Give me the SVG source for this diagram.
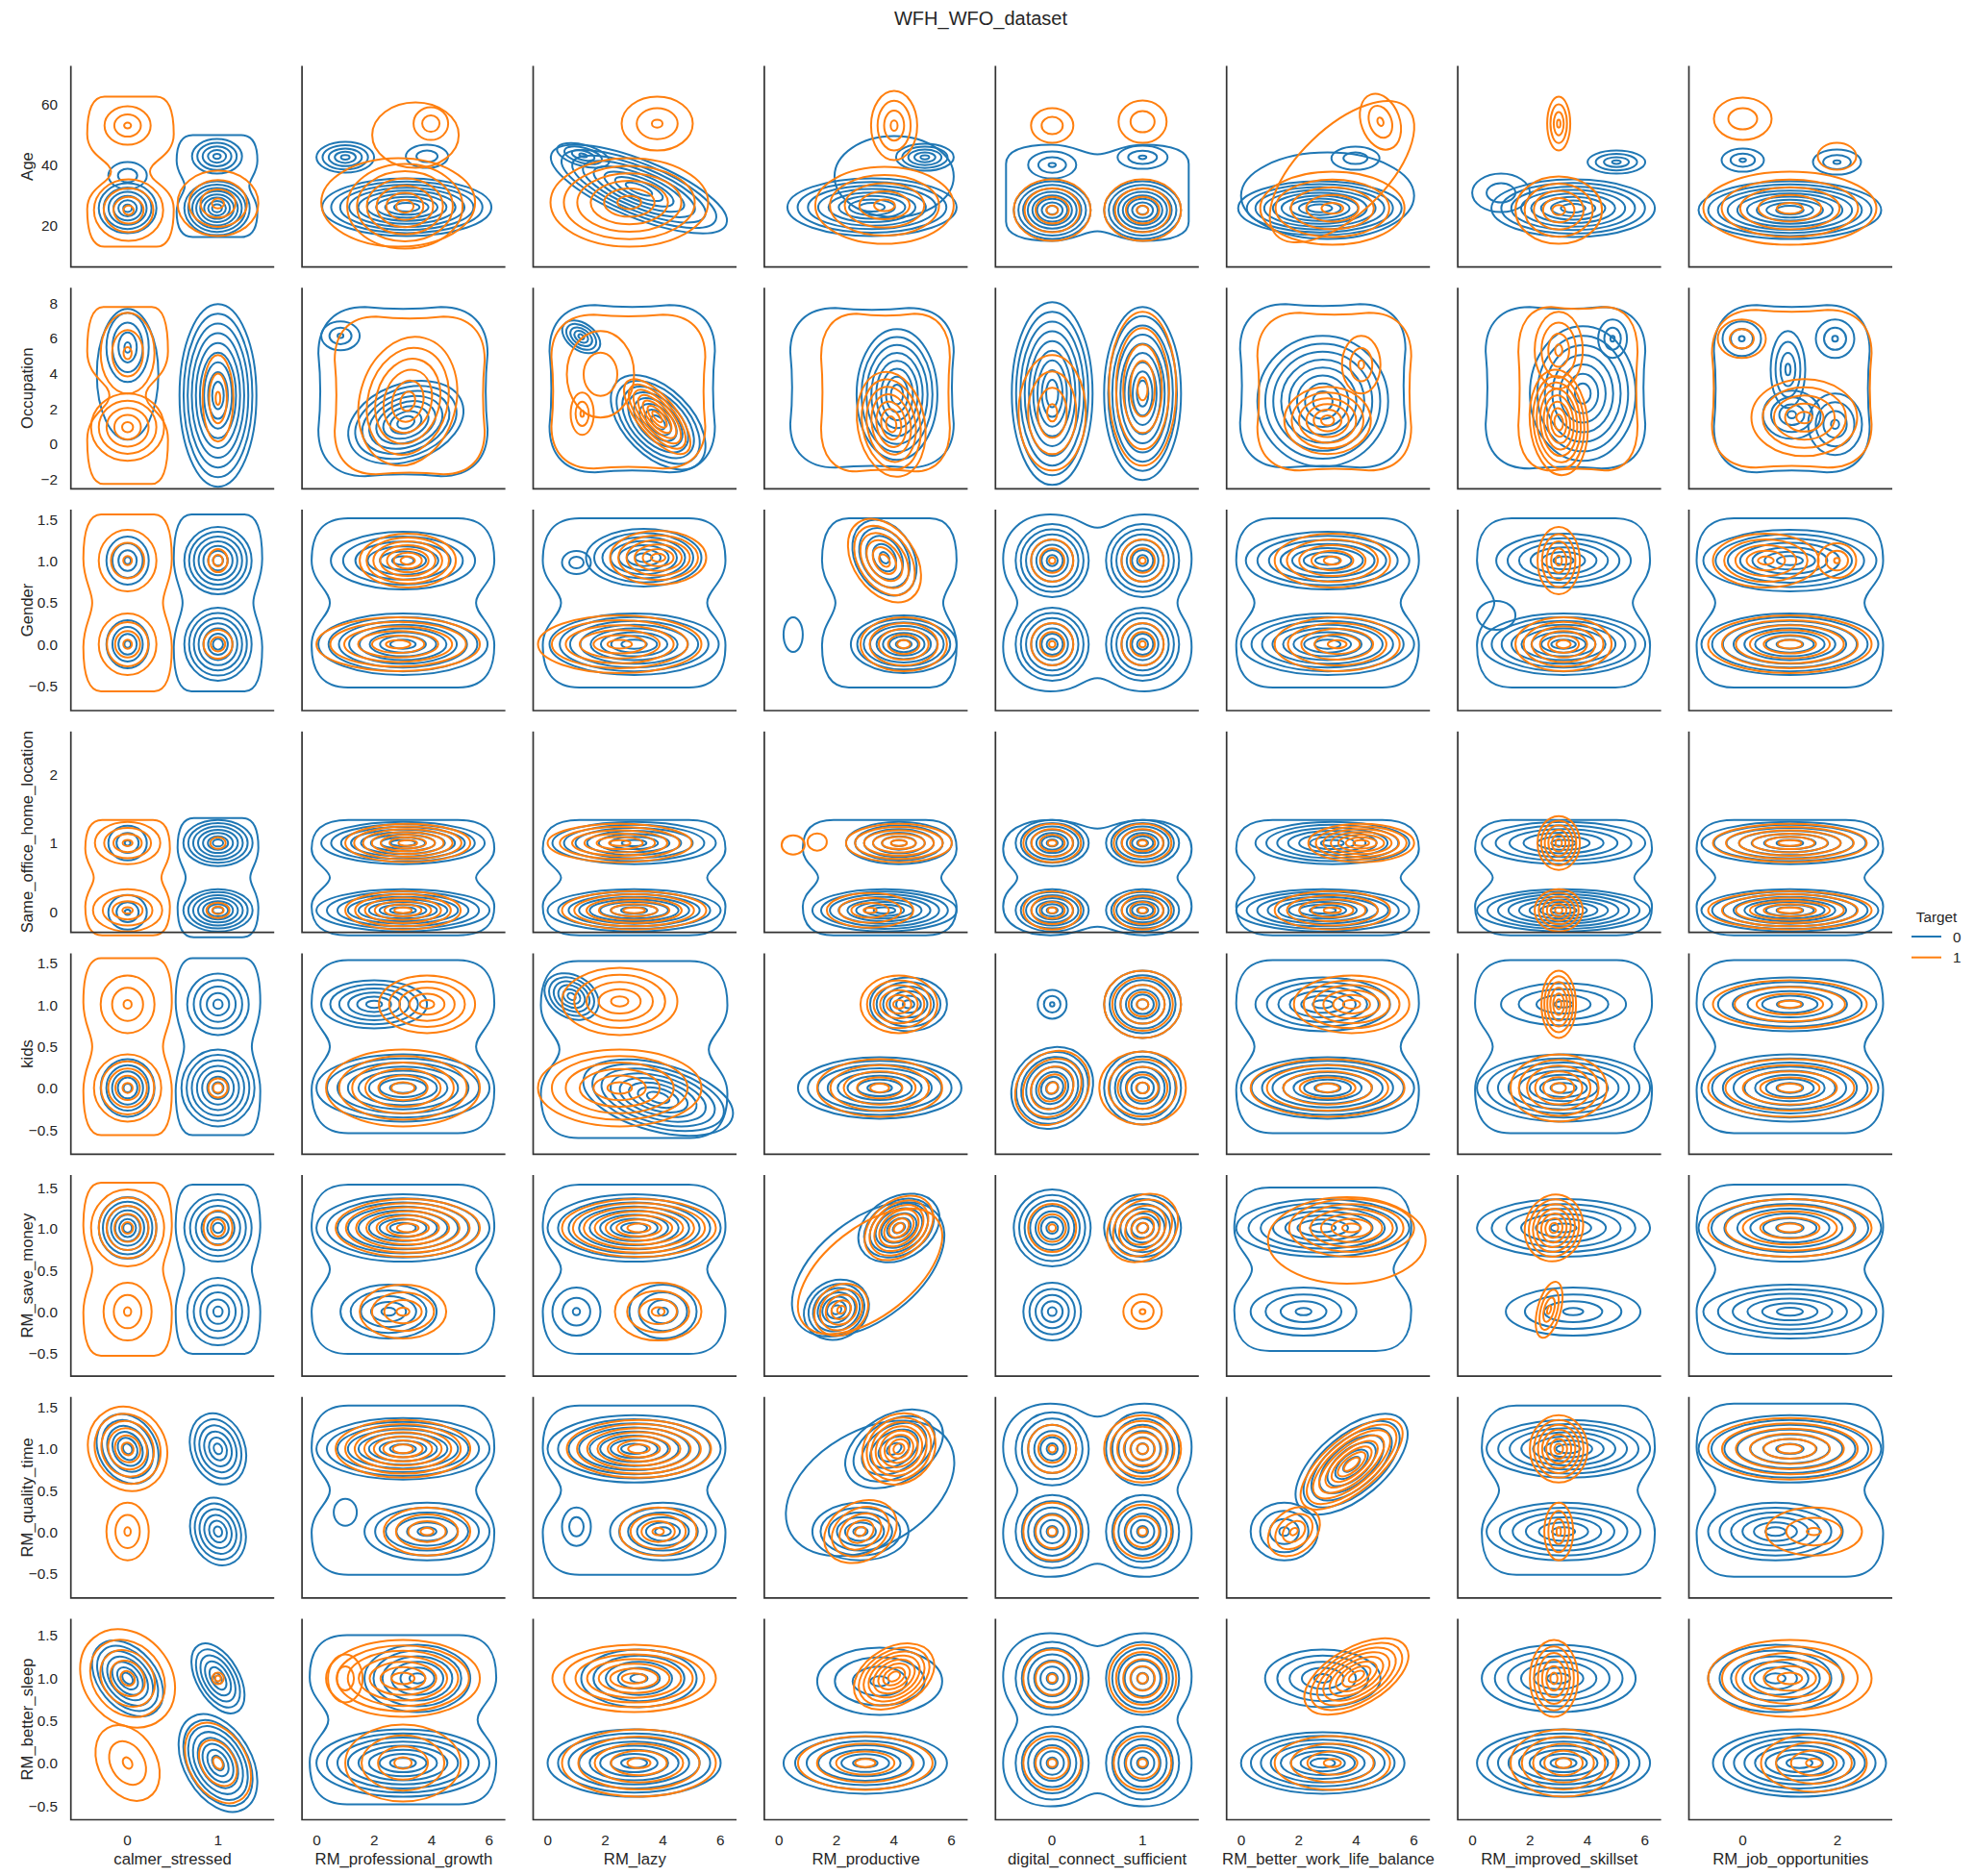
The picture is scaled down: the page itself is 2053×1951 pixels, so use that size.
<svg xmlns="http://www.w3.org/2000/svg" xmlns:xlink="http://www.w3.org/1999/xlink" width="2053" height="1951" viewBox="0 0 2053 1951">
<style>
circle,.e{fill:none;stroke-width:2;vector-effect:non-scaling-stroke}
.b{stroke:#1f77b4}
.o{stroke:#ff7f0e}
.sp{fill:none;stroke:#333;stroke-width:1.7}
text{font-family:"Liberation Sans",Arial,sans-serif;fill:#262626}
.yt{font-size:15.3px;text-anchor:end}
.xt{font-size:15.3px;text-anchor:middle}
.lb{font-size:16.7px;text-anchor:middle}
</style>
<defs>
<g id="k1"><circle r="1"/></g>
<g id="k2"><circle r="1"/><circle r=".5"/></g>
<g id="k3"><circle r="1"/><circle r=".575"/><circle r=".15"/></g>
<g id="k4"><circle r="1"/><circle r=".717"/><circle r=".433"/><circle r=".15"/></g>
<g id="k5"><circle r="1"/><circle r=".788"/><circle r=".575"/><circle r=".363"/><circle r=".15"/></g>
<g id="k6"><circle r="1"/><circle r=".83"/><circle r=".66"/><circle r=".49"/><circle r=".32"/><circle r=".15"/></g>
<g id="k7"><circle r="1"/><circle r=".858"/><circle r=".717"/><circle r=".575"/><circle r=".433"/><circle r=".292"/><circle r=".15"/></g>
<g id="k8"><circle r="1"/><circle r=".879"/><circle r=".757"/><circle r=".636"/><circle r=".514"/><circle r=".393"/><circle r=".271"/><circle r=".15"/></g>
<g id="k9"><circle r="1"/><circle r=".894"/><circle r=".788"/><circle r=".681"/><circle r=".575"/><circle r=".469"/><circle r=".363"/><circle r=".256"/><circle r=".15"/></g>
<path id="pw" class="e" d="M-.6-1L.6-1C.9-1 1-.8 1-.5C1-.25 .8-.15 .8 0C.8 .15 1 .25 1 .5C1 .8 .9 1 .6 1L-.6 1C-.9 1-1 .8-1 .5C-1 .25-.8 .15-.8 0C-.8-.15-1-.25-1-.5C-1-.8-.9-1-.6-1Z"/>
<path id="pd" class="e" d="M-.6-1L.6-1C.9-1 1-.8 1-.5C1-.2 .45-.15 .45 0C.45 .15 1 .2 1 .5C1 .8 .9 1 .6 1L-.6 1C-.9 1-1 .8-1 .5C-1 .2-.45 .15-.45 0C-.45-.15-1-.2-1-.5C-1-.8-.9-1-.6-1Z"/>
<path id="p4" class="e" d="M-.5-1C-.2-1-.15-.85 0-.85C.15-.85 .2-1 .5-1C.8-1 1-.8 1-.5C1-.2 .85-.15 .85 0C.85 .15 1 .2 1 .5C1 .8 .8 1 .5 1C.2 1 .15 .85 0 .85C-.15 .85-.2 1-.5 1C-.8 1-1 .8-1 .5C-1 .2-.85 .15-.85 0C-.85-.15-1-.2-1-.5C-1-.8-.8-1-.5-1Z"/>
<path id="rr" class="e" d="M-.45-1C-.15-.97 .15-.97 .45-1C.8-1 1-.8 1-.45C.97-.15 .97 .15 1 .45C1 .8 .8 1 .45 1C.15 .97-.15 .97-.45 1C-.8 1-1 .8-1 .45C-.97 .15-.97-.15-1-.45C-1-.8-.8-1-.45-1Z"/>
</defs>
<rect width="2053" height="1951" fill="#fff"/>
<text x="1020" y="26" style="font-size:20px" text-anchor="middle">WFH_WFO_dataset</text>

<!-- Row 1: Age -->
<g id="p11" transform="translate(73.7 68.6)">
<use href="#k6" class="b" transform="translate(59 148) scale(30 26)"/>
<use href="#k2" class="b" transform="translate(59 114) scale(20 14)"/>
<use href="#pw" class="b" transform="translate(152 125) scale(42 53)"/>
<use href="#k8" class="b" transform="translate(152 148) scale(34 28)"/>
<use href="#k5" class="b" transform="translate(152 94) scale(26 18)"/>
<use href="#pd" class="o" transform="translate(62 110) scale(45 78)"/>
<use href="#k3" class="o" transform="translate(59 62) scale(24 20)"/>
<use href="#k4" class="o" transform="translate(60 150) scale(36 32)"/>
<use href="#k4" class="o" transform="translate(153 143) scale(42 34)"/>
<path class="sp" d="M0 0V209H211.5"/>
</g>
<g id="p12" transform="translate(314.1 68.6)">
<use href="#k9" class="b" transform="translate(109 147) scale(88 30)"/>
<use href="#k5" class="b" transform="translate(45 95) scale(30 16)"/>
<use href="#k2" class="b" transform="translate(130 94) scale(22 12)"/>
<use href="#k6" class="o" transform="translate(107 146) scale(60 44)"/>
<use href="#k2" class="o" transform="translate(134 60) scale(18 17)"/>
<use href="#k1" class="o" transform="translate(100 142) scale(80 46)"/>
<use href="#k1" class="o" transform="translate(118 72) scale(45 34)"/>
<path class="sp" d="M0 0V209H211.5"/>
</g>
<g id="p13" transform="translate(554.5 68.6)">
<use href="#k8" class="b" transform="translate(110 128) rotate(22) scale(98 30)"/>
<use href="#k4" class="b" transform="translate(52 93) rotate(15) scale(28 11)"/>
<use href="#k3" class="o" transform="translate(129 60) scale(37 28)"/>
<use href="#k6" class="o" transform="translate(100 142) scale(82 46)"/>
<path class="sp" d="M0 0V209H211.5"/>
</g>
<g id="p14" transform="translate(794.9 68.6)">
<use href="#k8" class="b" transform="translate(112 147) scale(88 30)"/>
<use href="#k5" class="b" transform="translate(167 95) scale(30 14)"/>
<use href="#k1" class="b" transform="translate(135 115) scale(62 42)"/>
<use href="#k4" class="o" transform="translate(135 62) scale(24 36)"/>
<use href="#k5" class="o" transform="translate(125 145) scale(72 40)"/>
<path class="sp" d="M0 0V209H211.5"/>
</g>
<g id="p15" transform="translate(1035.3 68.6)">
<use href="#k8" class="b" transform="translate(59 150) scale(40 30)"/>
<use href="#k3" class="b" transform="translate(59 103) scale(25 14)"/>
<use href="#k8" class="b" transform="translate(153 150) scale(40 30)"/>
<use href="#k3" class="b" transform="translate(153 95) scale(26 12)"/>
<use href="#pw" class="b" transform="translate(106 132) rotate(90) scale(50 95)"/>
<use href="#k2" class="o" transform="translate(59 62) scale(22 18)"/>
<use href="#k4" class="o" transform="translate(59 150) scale(40 32)"/>
<use href="#k2" class="o" transform="translate(153 58) scale(25 22)"/>
<use href="#k4" class="o" transform="translate(153 150) scale(40 32)"/>
<path class="sp" d="M0 0V209H211.5"/>
</g>
<g id="p16" transform="translate(1275.7 68.6)">
<use href="#k9" class="b" transform="translate(97 148) scale(85 28)"/>
<use href="#k2" class="b" transform="translate(134 96) scale(25 12)"/>
<use href="#k1" class="b" transform="translate(105 135) scale(90 45)"/>
<use href="#k5" class="o" transform="translate(110 148) scale(75 38)"/>
<use href="#k3" class="o" transform="translate(160 58) rotate(-20) scale(20 30)"/>
<use href="#k1" class="o" transform="translate(120 110) rotate(-44) scale(95 45)"/>
<path class="sp" d="M0 0V209H211.5"/>
</g>
<g id="p17" transform="translate(1516.1 68.6)">
<use href="#k8" class="b" transform="translate(120 148) scale(85 30)"/>
<use href="#k4" class="b" transform="translate(165 100) scale(30 12)"/>
<use href="#k2" class="b" transform="translate(45 132) scale(30 20)"/>
<use href="#k4" class="o" transform="translate(105 60) scale(12 28)"/>
<use href="#k5" class="o" transform="translate(105 150) scale(45 35)"/>
<path class="sp" d="M0 0V209H211.5"/>
</g>
<g id="p18" transform="translate(1756.5 68.6)">
<use href="#k9" class="b" transform="translate(105 150) scale(95 30)"/>
<use href="#k3" class="b" transform="translate(56 98) scale(22 12)"/>
<use href="#k3" class="b" transform="translate(154 100) scale(25 13)"/>
<use href="#k2" class="o" transform="translate(56 55) scale(30 22)"/>
<use href="#k5" class="o" transform="translate(105 148) scale(90 38)"/>
<use href="#k1" class="o" transform="translate(154 94) scale(20 14)"/>
<path class="sp" d="M0 0V209H211.5"/>
</g>

<!-- Row 2: Occupation -->
<g id="p21" transform="translate(73.7 299.3)">
<use href="#k4" class="b" transform="translate(59 62) scale(22 36)"/>
<use href="#k1" class="b" transform="translate(59 90) scale(32 68)"/>
<use href="#k9" class="b" transform="translate(153 112) scale(40 95)"/>
<use href="#pd" class="o" transform="translate(59 112) scale(42 92)"/>
<use href="#k3" class="o" transform="translate(59 68) scale(28 42)"/>
<use href="#k5" class="o" transform="translate(59 145) scale(38 35)"/>
<use href="#k3" class="o" transform="translate(153 115) scale(16 45)"/>
<path class="sp" d="M0 0V209H211.5"/>
</g>
<g id="p22" transform="translate(314.1 299.3)">
<use href="#rr" class="b" transform="translate(105 108) scale(88 88)"/>
<use href="#k3" class="b" transform="translate(40 50) scale(20 15)"/>
<use href="#k8" class="b" transform="translate(108 140) rotate(-20) scale(62 40)"/>
<use href="#k6" class="o" transform="translate(110 118) rotate(15) scale(50 68)"/>
<use href="#rr" class="o" transform="translate(112 112) scale(78 82)"/>
<path class="sp" d="M0 0V209H211.5"/>
</g>
<g id="p23" transform="translate(554.5 299.3)">
<use href="#rr" class="b" transform="translate(103 105) scale(86 87)"/>
<use href="#k5" class="b" transform="translate(50 51) rotate(35) scale(22 14)"/>
<use href="#k8" class="b" transform="translate(130 140) rotate(45) scale(60 35)"/>
<use href="#rr" class="o" transform="translate(99 108) scale(80 80)"/>
<use href="#k7" class="o" transform="translate(129 134) rotate(50) scale(48 20)"/>
<use href="#k3" class="o" transform="translate(51 131) scale(12 22)"/>
<use href="#k2" class="o" transform="translate(70 90) scale(35 45)"/>
<path class="sp" d="M0 0V209H211.5"/>
</g>
<g id="p24" transform="translate(794.9 299.3)">
<use href="#rr" class="b" transform="translate(112 104) scale(85 83)"/>
<use href="#k8" class="b" transform="translate(138 111) scale(42 68)"/>
<use href="#rr" class="o" transform="translate(126 109) scale(67 82)"/>
<use href="#k7" class="o" transform="translate(132 142) rotate(-10) scale(35 55)"/>
<path class="sp" d="M0 0V209H211.5"/>
</g>
<g id="p25" transform="translate(1035.3 299.3)">
<use href="#k9" class="b" transform="translate(59 110) scale(42 95)"/>
<use href="#k9" class="b" transform="translate(153 110) scale(40 90)"/>
<use href="#k4" class="o" transform="translate(59 130) scale(35 60)"/>
<use href="#k5" class="o" transform="translate(153 105) scale(35 80)"/>
<path class="sp" d="M0 0V209H211.5"/>
</g>
<g id="p26" transform="translate(1275.7 299.3)">
<use href="#rr" class="b" transform="translate(100 102) scale(86 85)"/>
<use href="#k8" class="b" transform="translate(100 118) scale(68 68)"/>
<use href="#k6" class="o" transform="translate(105 138) scale(45 35)"/>
<use href="#k3" class="o" transform="translate(140 80) scale(20 30)"/>
<use href="#rr" class="o" transform="translate(112 108) scale(80 82)"/>
<path class="sp" d="M0 0V209H211.5"/>
</g>
<g id="p27" transform="translate(1516.1 299.3)">
<use href="#rr" class="b" transform="translate(112 104) scale(83 84)"/>
<use href="#k7" class="b" transform="translate(130 110) scale(55 70)"/>
<use href="#k3" class="b" transform="translate(161 53) scale(15 20)"/>
<use href="#k8" class="o" transform="translate(105 140) rotate(-5) scale(30 55)"/>
<use href="#k4" class="o" transform="translate(105 65) scale(25 40)"/>
<use href="#rr" class="o" transform="translate(125 105) scale(62 85)"/>
<path class="sp" d="M0 0V209H211.5"/>
</g>
<g id="p28" transform="translate(1756.5 299.3)">
<use href="#rr" class="b" transform="translate(107 105) scale(81 87)"/>
<use href="#k3" class="b" transform="translate(55 53) scale(20 18)"/>
<use href="#k3" class="b" transform="translate(152 53) scale(20 20)"/>
<use href="#k4" class="b" transform="translate(103 85) scale(18 40)"/>
<use href="#k4" class="b" transform="translate(152 142) scale(28 32)"/>
<use href="#k4" class="b" transform="translate(107 132) scale(30 25)"/>
<use href="#rr" class="o" transform="translate(107 105) scale(83 82)"/>
<use href="#k5" class="o" transform="translate(120 135) scale(55 40)"/>
<use href="#k2" class="o" transform="translate(55 53) scale(25 20)"/>
<path class="sp" d="M0 0V209H211.5"/>
</g>

<!-- Row 3: Gender -->
<g id="p31" transform="translate(73.7 530)">
<use href="#k4" class="b" transform="translate(59 53) scale(22 25)"/>
<use href="#k4" class="b" transform="translate(59 140) scale(22 25)"/>
<use href="#pw" class="b" transform="translate(153 97) scale(46 92)"/>
<use href="#k7" class="b" transform="translate(153 53) scale(35 35)"/>
<use href="#k7" class="b" transform="translate(153 140) scale(35 38)"/>
<use href="#pw" class="o" transform="translate(59 97) scale(46 92)"/>
<use href="#k3" class="o" transform="translate(59 53) scale(30 32)"/>
<use href="#k4" class="o" transform="translate(59 140) scale(30 32)"/>
<use href="#k2" class="o" transform="translate(153 53) scale(10 12)"/>
<use href="#k2" class="o" transform="translate(153 140) scale(15 15)"/>
<path class="sp" d="M0 0V209H211.5"/>
</g>
<g id="p32" transform="translate(314.1 530)">
<use href="#pw" class="b" transform="translate(105 97) scale(95 88)"/>
<use href="#k6" class="b" transform="translate(105 53) scale(75 30)"/>
<use href="#k8" class="b" transform="translate(105 140) scale(88 32)"/>
<use href="#k7" class="o" transform="translate(110 53) scale(50 28)"/>
<use href="#k6" class="o" transform="translate(100 140) scale(85 28)"/>
<path class="sp" d="M0 0V209H211.5"/>
</g>
<g id="p33" transform="translate(554.5 530)">
<use href="#pw" class="b" transform="translate(105 97) scale(95 88)"/>
<use href="#k7" class="b" transform="translate(115 50) scale(60 30)"/>
<use href="#k2" class="b" transform="translate(45 55) scale(15 12)"/>
<use href="#k8" class="b" transform="translate(105 140) scale(88 32)"/>
<use href="#k6" class="o" transform="translate(130 50) scale(50 28)"/>
<use href="#k6" class="o" transform="translate(90 140) scale(85 30)"/>
<path class="sp" d="M0 0V209H211.5"/>
</g>
<g id="p34" transform="translate(794.9 530)">
<use href="#k5" class="b" transform="translate(125 50) rotate(-30) scale(30 42)"/>
<use href="#k8" class="b" transform="translate(145 140) scale(55 30)"/>
<use href="#k1" class="b" transform="translate(30 130) scale(10 18)"/>
<use href="#pw" class="b" transform="translate(130 97) scale(70 88)"/>
<use href="#k6" class="o" transform="translate(125 53) rotate(-35) scale(32 48)"/>
<use href="#k5" class="o" transform="translate(145 140) scale(45 28)"/>
<path class="sp" d="M0 0V209H211.5"/>
</g>
<g id="p35" transform="translate(1035.3 530)">
<use href="#p4" class="b" transform="translate(106 97) scale(98 92)"/>
<use href="#k7" class="b" transform="translate(59 53) scale(38 38)"/>
<use href="#k7" class="b" transform="translate(59 140) scale(38 38)"/>
<use href="#k7" class="b" transform="translate(153 53) scale(38 38)"/>
<use href="#k7" class="b" transform="translate(153 140) scale(38 38)"/>
<use href="#k3" class="o" transform="translate(59 53) scale(22 22)"/>
<use href="#k3" class="o" transform="translate(59 140) scale(22 22)"/>
<use href="#k3" class="o" transform="translate(153 53) scale(22 22)"/>
<use href="#k3" class="o" transform="translate(153 140) scale(22 22)"/>
<path class="sp" d="M0 0V209H211.5"/>
</g>
<g id="p36" transform="translate(1275.7 530)">
<use href="#pw" class="b" transform="translate(105 97) scale(95 88)"/>
<use href="#k7" class="b" transform="translate(105 53) scale(85 30)"/>
<use href="#k8" class="b" transform="translate(105 140) scale(90 32)"/>
<use href="#k5" class="o" transform="translate(110 53) scale(60 28)"/>
<use href="#k5" class="o" transform="translate(115 140) scale(65 28)"/>
<path class="sp" d="M0 0V209H211.5"/>
</g>
<g id="p37" transform="translate(1516.1 530)">
<use href="#pw" class="b" transform="translate(110 97) scale(90 88)"/>
<use href="#k6" class="b" transform="translate(110 53) scale(70 28)"/>
<use href="#k8" class="b" transform="translate(110 140) scale(85 32)"/>
<use href="#k1" class="b" transform="translate(40 110) scale(20 15)"/>
<use href="#k5" class="o" transform="translate(105 53) scale(22 35)"/>
<use href="#k6" class="o" transform="translate(110 140) scale(50 28)"/>
<path class="sp" d="M0 0V209H211.5"/>
</g>
<g id="p38" transform="translate(1756.5 530)">
<use href="#pw" class="b" transform="translate(105 97) scale(97 88)"/>
<use href="#k7" class="b" transform="translate(105 53) scale(90 32)"/>
<use href="#k8" class="b" transform="translate(105 140) scale(92 32)"/>
<use href="#k5" class="o" transform="translate(80 53) scale(55 28)"/>
<use href="#k3" class="o" transform="translate(154 53) scale(20 18)"/>
<use href="#k6" class="o" transform="translate(105 140) scale(85 30)"/>
<path class="sp" d="M0 0V209H211.5"/>
</g>

<!-- Row 4: Same_office_home_location -->
<g id="p41" transform="translate(73.7 760.7)">
<use href="#k3" class="b" transform="translate(59 116) scale(20 18)"/>
<use href="#k3" class="b" transform="translate(59 188) scale(20 18)"/>
<use href="#pw" class="b" transform="translate(153 152) scale(42 62)"/>
<use href="#k7" class="b" transform="translate(153 116) scale(36 24)"/>
<use href="#k7" class="b" transform="translate(153 186) scale(36 22)"/>
<use href="#pw" class="o" transform="translate(59 152) scale(44 60)"/>
<use href="#k4" class="o" transform="translate(59 116) scale(34 22)"/>
<use href="#k4" class="o" transform="translate(59 186) scale(36 22)"/>
<use href="#k1" class="o" transform="translate(153 116) scale(8 6)"/>
<use href="#k2" class="o" transform="translate(153 186) scale(12 8)"/>
<path class="sp" d="M0 0V209H211.5"/>
</g>
<g id="p42" transform="translate(314.1 760.7)">
<use href="#pw" class="b" transform="translate(105 152) scale(95 60)"/>
<use href="#k8" class="b" transform="translate(105 116) scale(85 22)"/>
<use href="#k8" class="b" transform="translate(105 186) scale(90 22)"/>
<use href="#k7" class="o" transform="translate(110 116) scale(65 20)"/>
<use href="#k6" class="o" transform="translate(105 186) scale(60 20)"/>
<path class="sp" d="M0 0V209H211.5"/>
</g>
<g id="p43" transform="translate(554.5 760.7)">
<use href="#pw" class="b" transform="translate(105 152) scale(95 60)"/>
<use href="#k7" class="b" transform="translate(105 116) scale(85 22)"/>
<use href="#k8" class="b" transform="translate(105 186) scale(90 22)"/>
<use href="#k6" class="o" transform="translate(90 116) scale(75 20)"/>
<use href="#k6" class="o" transform="translate(105 186) scale(75 20)"/>
<path class="sp" d="M0 0V209H211.5"/>
</g>
<g id="p44" transform="translate(794.9 760.7)">
<use href="#pw" class="b" transform="translate(120 152) scale(80 60)"/>
<use href="#k6" class="b" transform="translate(140 116) scale(55 22)"/>
<use href="#k8" class="b" transform="translate(125 186) scale(75 22)"/>
<use href="#k6" class="o" transform="translate(140 116) scale(55 20)"/>
<use href="#k4" class="o" transform="translate(110 186) scale(45 18)"/>
<use href="#k1" class="o" transform="translate(30 118) scale(12 10)"/>
<use href="#k1" class="o" transform="translate(55 115) scale(10 9)"/>
<path class="sp" d="M0 0V209H211.5"/>
</g>
<g id="p45" transform="translate(1035.3 760.7)">
<use href="#p4" class="b" transform="translate(106 152) scale(98 60)"/>
<use href="#k7" class="b" transform="translate(59 116) scale(38 24)"/>
<use href="#k7" class="b" transform="translate(59 186) scale(38 22)"/>
<use href="#k7" class="b" transform="translate(153 116) scale(38 24)"/>
<use href="#k7" class="b" transform="translate(153 186) scale(38 22)"/>
<use href="#k4" class="o" transform="translate(59 116) scale(30 20)"/>
<use href="#k4" class="o" transform="translate(59 186) scale(30 20)"/>
<use href="#k4" class="o" transform="translate(153 116) scale(30 20)"/>
<use href="#k4" class="o" transform="translate(153 186) scale(30 20)"/>
<path class="sp" d="M0 0V209H211.5"/>
</g>
<g id="p46" transform="translate(1275.7 760.7)">
<use href="#pw" class="b" transform="translate(105 152) scale(95 60)"/>
<use href="#k7" class="b" transform="translate(110 116) scale(80 22)"/>
<use href="#k8" class="b" transform="translate(100 186) scale(90 22)"/>
<use href="#k7" class="o" transform="translate(140 116) scale(55 20)"/>
<use href="#k5" class="o" transform="translate(110 186) scale(60 20)"/>
<path class="sp" d="M0 0V209H211.5"/>
</g>
<g id="p47" transform="translate(1516.1 760.7)">
<use href="#pw" class="b" transform="translate(110 152) scale(92 60)"/>
<use href="#k6" class="b" transform="translate(110 116) scale(85 22)"/>
<use href="#k8" class="b" transform="translate(110 186) scale(90 22)"/>
<use href="#k6" class="o" transform="translate(105 116) scale(22 28)"/>
<use href="#k6" class="o" transform="translate(105 186) scale(25 22)"/>
<path class="sp" d="M0 0V209H211.5"/>
</g>
<g id="p48" transform="translate(1756.5 760.7)">
<use href="#pw" class="b" transform="translate(105 152) scale(97 60)"/>
<use href="#k7" class="b" transform="translate(105 116) scale(92 22)"/>
<use href="#k8" class="b" transform="translate(105 186) scale(92 22)"/>
<use href="#k6" class="o" transform="translate(105 116) scale(80 20)"/>
<use href="#k6" class="o" transform="translate(105 186) scale(85 20)"/>
<path class="sp" d="M0 0V209H211.5"/>
</g>

<!-- Row 5: kids -->
<g id="p51" transform="translate(73.7 991.4)">
<use href="#k5" class="b" transform="translate(59 140) scale(28 30)"/>
<use href="#pw" class="b" transform="translate(153 97) scale(44 92)"/>
<use href="#k5" class="b" transform="translate(153 53) scale(32 32)"/>
<use href="#k7" class="b" transform="translate(153 140) scale(38 40)"/>
<use href="#pw" class="o" transform="translate(59 97) scale(46 92)"/>
<use href="#k3" class="o" transform="translate(59 53) scale(28 30)"/>
<use href="#k5" class="o" transform="translate(59 140) scale(35 35)"/>
<use href="#k2" class="o" transform="translate(153 140) scale(10 10)"/>
<path class="sp" d="M0 0V209H211.5"/>
</g>
<g id="p52" transform="translate(314.1 991.4)">
<use href="#pw" class="b" transform="translate(105 97) scale(95 90)"/>
<use href="#k6" class="b" transform="translate(75 53) scale(55 25)"/>
<use href="#k8" class="b" transform="translate(105 140) scale(90 35)"/>
<use href="#k5" class="o" transform="translate(130 53) scale(50 30)"/>
<use href="#k6" class="o" transform="translate(105 140) scale(80 40)"/>
<path class="sp" d="M0 0V209H211.5"/>
</g>
<g id="p53" transform="translate(554.5 991.4)">
<use href="#k6" class="b" transform="translate(40 45) rotate(30) scale(30 22)"/>
<use href="#k8" class="b" transform="translate(130 150) rotate(15) scale(80 35)"/>
<use href="#pw" class="b" transform="translate(105 100) scale(97 92)"/>
<use href="#k5" class="o" transform="translate(90 50) scale(60 35)"/>
<use href="#k6" class="o" transform="translate(90 140) scale(85 40)"/>
<path class="sp" d="M0 0V209H211.5"/>
</g>
<g id="p54" transform="translate(794.9 991.4)">
<use href="#k6" class="b" transform="translate(150 53) scale(40 28)"/>
<use href="#k8" class="b" transform="translate(120 140) scale(85 32)"/>
<use href="#k6" class="o" transform="translate(140 53) scale(40 30)"/>
<use href="#k5" class="o" transform="translate(120 140) scale(65 30)"/>
<path class="sp" d="M0 0V209H211.5"/>
</g>
<g id="p55" transform="translate(1035.3 991.4)">
<use href="#k3" class="b" transform="translate(59 53) scale(15 15)"/>
<use href="#k8" class="b" transform="translate(59 140) rotate(-45) scale(45 40)"/>
<use href="#k7" class="b" transform="translate(153 53) scale(40 35)"/>
<use href="#k7" class="b" transform="translate(153 140) scale(40 38)"/>
<use href="#k5" class="o" transform="translate(59 140) rotate(-45) scale(42 35)"/>
<use href="#k5" class="o" transform="translate(153 53) scale(40 35)"/>
<use href="#k5" class="o" transform="translate(153 140) scale(45 38)"/>
<path class="sp" d="M0 0V209H211.5"/>
</g>
<g id="p56" transform="translate(1275.7 991.4)">
<use href="#pw" class="b" transform="translate(105 97) scale(95 90)"/>
<use href="#k6" class="b" transform="translate(100 53) scale(70 28)"/>
<use href="#k8" class="b" transform="translate(105 140) scale(90 32)"/>
<use href="#k6" class="o" transform="translate(130 53) scale(60 30)"/>
<use href="#k5" class="o" transform="translate(105 140) scale(80 30)"/>
<path class="sp" d="M0 0V209H211.5"/>
</g>
<g id="p57" transform="translate(1516.1 991.4)">
<use href="#pw" class="b" transform="translate(110 97) scale(92 90)"/>
<use href="#k4" class="b" transform="translate(110 53) scale(65 22)"/>
<use href="#k8" class="b" transform="translate(110 140) scale(90 35)"/>
<use href="#k6" class="o" transform="translate(105 53) scale(18 35)"/>
<use href="#k6" class="o" transform="translate(105 140) scale(50 35)"/>
<path class="sp" d="M0 0V209H211.5"/>
</g>
<g id="p58" transform="translate(1756.5 991.4)">
<use href="#pw" class="b" transform="translate(105 97) scale(97 90)"/>
<use href="#k6" class="b" transform="translate(105 53) scale(90 28)"/>
<use href="#k8" class="b" transform="translate(105 140) scale(92 35)"/>
<use href="#k4" class="o" transform="translate(105 53) scale(80 25)"/>
<use href="#k5" class="o" transform="translate(105 140) scale(85 30)"/>
<path class="sp" d="M0 0V209H211.5"/>
</g>

<!-- Row 6: RM_save_money -->
<g id="p61" transform="translate(73.7 1222.1)">
<use href="#k7" class="b" transform="translate(59 55) scale(30 32)"/>
<use href="#pw" class="b" transform="translate(153 98) scale(44 88)"/>
<use href="#k6" class="b" transform="translate(153 55) scale(35 35)"/>
<use href="#k5" class="b" transform="translate(153 142) scale(32 35)"/>
<use href="#pw" class="o" transform="translate(59 98) scale(46 90)"/>
<use href="#k5" class="o" transform="translate(59 55) scale(38 40)"/>
<use href="#k3" class="o" transform="translate(59 142) scale(25 30)"/>
<use href="#k2" class="o" transform="translate(153 55) scale(15 18)"/>
<path class="sp" d="M0 0V209H211.5"/>
</g>
<g id="p62" transform="translate(314.1 1222.1)">
<use href="#pw" class="b" transform="translate(105 98) scale(95 88)"/>
<use href="#k8" class="b" transform="translate(105 55) scale(90 35)"/>
<use href="#k5" class="b" transform="translate(90 142) scale(50 28)"/>
<use href="#k7" class="o" transform="translate(110 55) scale(75 30)"/>
<use href="#k4" class="o" transform="translate(105 142) scale(45 28)"/>
<path class="sp" d="M0 0V209H211.5"/>
</g>
<g id="p63" transform="translate(554.5 1222.1)">
<use href="#pw" class="b" transform="translate(105 98) scale(95 88)"/>
<use href="#k8" class="b" transform="translate(105 55) scale(90 35)"/>
<use href="#k3" class="b" transform="translate(45 142) scale(25 25)"/>
<use href="#k4" class="b" transform="translate(135 142) scale(35 28)"/>
<use href="#k7" class="o" transform="translate(110 55) scale(80 30)"/>
<use href="#k4" class="o" transform="translate(130 142) scale(45 30)"/>
<path class="sp" d="M0 0V209H211.5"/>
</g>
<g id="p64" transform="translate(794.9 1222.1)">
<use href="#k7" class="b" transform="translate(140 55) rotate(-30) scale(45 32)"/>
<use href="#k7" class="b" transform="translate(75 140) rotate(-30) scale(35 30)"/>
<use href="#k1" class="b" transform="translate(108 98) rotate(-38) scale(92 52)"/>
<use href="#k7" class="o" transform="translate(140 55) rotate(-40) scale(40 28)"/>
<use href="#k5" class="o" transform="translate(80 140) rotate(-40) scale(30 25)"/>
<use href="#k1" class="o" transform="translate(110 100) rotate(-38) scale(88 46)"/>
<path class="sp" d="M0 0V209H211.5"/>
</g>
<g id="p65" transform="translate(1035.3 1222.1)">
<use href="#k7" class="b" transform="translate(59 55) scale(40 40)"/>
<use href="#k5" class="b" transform="translate(59 142) scale(30 30)"/>
<use href="#k7" class="b" transform="translate(153 55) scale(40 35)"/>
<use href="#k3" class="o" transform="translate(59 55) scale(25 25)"/>
<use href="#k6" class="o" transform="translate(153 55) rotate(-40) scale(40 32)"/>
<use href="#k3" class="o" transform="translate(153 142) scale(20 18)"/>
<path class="sp" d="M0 0V209H211.5"/>
</g>
<g id="p66" transform="translate(1275.7 1222.1)">
<use href="#pw" class="b" transform="translate(100 98) scale(92 85)"/>
<use href="#k7" class="b" transform="translate(100 55) scale(90 30)"/>
<use href="#k4" class="b" transform="translate(80 142) scale(55 25)"/>
<use href="#k6" class="o" transform="translate(130 55) scale(65 30)"/>
<use href="#k1" class="o" transform="translate(125 68) scale(82 45)"/>
<path class="sp" d="M0 0V209H211.5"/>
</g>
<g id="p67" transform="translate(1516.1 1222.1)">
<use href="#k6" class="b" transform="translate(110 55) scale(90 30)"/>
<use href="#k4" class="b" transform="translate(120 142) scale(70 25)"/>
<use href="#k7" class="o" transform="translate(100 55) rotate(15) scale(30 35)"/>
<use href="#k4" class="o" transform="translate(95 140) rotate(15) scale(12 30)"/>
<path class="sp" d="M0 0V209H211.5"/>
</g>
<g id="p68" transform="translate(1756.5 1222.1)">
<use href="#pw" class="b" transform="translate(105 98) scale(97 88)"/>
<use href="#k7" class="b" transform="translate(105 55) scale(95 35)"/>
<use href="#k6" class="b" transform="translate(105 142) scale(90 28)"/>
<use href="#k5" class="o" transform="translate(105 55) scale(85 30)"/>
<path class="sp" d="M0 0V209H211.5"/>
</g>

<!-- Row 7: RM_quality_time -->
<g id="p71" transform="translate(73.7 1452.8)">
<use href="#k6" class="b" transform="translate(59 54) rotate(-30) scale(30 38)"/>
<use href="#k6" class="b" transform="translate(153 54) rotate(-20) scale(28 38)"/>
<use href="#k6" class="b" transform="translate(153 140) rotate(-20) scale(28 36)"/>
<use href="#k6" class="o" transform="translate(59 54) rotate(-30) scale(40 45)"/>
<use href="#k3" class="o" transform="translate(59 140) scale(22 30)"/>
<path class="sp" d="M0 0V209H211.5"/>
</g>
<g id="p72" transform="translate(314.1 1452.8)">
<use href="#pw" class="b" transform="translate(105 97) scale(95 88)"/>
<use href="#k8" class="b" transform="translate(105 54) scale(90 32)"/>
<use href="#k6" class="b" transform="translate(130 140) scale(65 30)"/>
<use href="#k1" class="b" transform="translate(45 120) scale(12 14)"/>
<use href="#k7" class="o" transform="translate(105 54) scale(70 30)"/>
<use href="#k4" class="o" transform="translate(130 140) scale(45 25)"/>
<path class="sp" d="M0 0V209H211.5"/>
</g>
<g id="p73" transform="translate(554.5 1452.8)">
<use href="#pw" class="b" transform="translate(105 97) scale(95 88)"/>
<use href="#k8" class="b" transform="translate(105 54) scale(90 35)"/>
<use href="#k6" class="b" transform="translate(135 140) scale(55 30)"/>
<use href="#k2" class="b" transform="translate(45 135) scale(15 20)"/>
<use href="#k7" class="o" transform="translate(110 54) scale(75 30)"/>
<use href="#k4" class="o" transform="translate(130 140) scale(40 25)"/>
<path class="sp" d="M0 0V209H211.5"/>
</g>
<g id="p74" transform="translate(794.9 1452.8)">
<use href="#k6" class="b" transform="translate(135 54) rotate(-30) scale(55 35)"/>
<use href="#k6" class="b" transform="translate(100 140) scale(50 30)"/>
<use href="#k1" class="b" transform="translate(110 95) rotate(-30) scale(95 60)"/>
<use href="#k8" class="o" transform="translate(140 54) rotate(-40) scale(40 35)"/>
<use href="#k5" class="o" transform="translate(100 140) rotate(-30) scale(40 30)"/>
<path class="sp" d="M0 0V209H211.5"/>
</g>
<g id="p75" transform="translate(1035.3 1452.8)">
<use href="#p4" class="b" transform="translate(106 97) scale(98 90)"/>
<use href="#k6" class="b" transform="translate(59 54) scale(38 38)"/>
<use href="#k6" class="b" transform="translate(153 54) scale(38 38)"/>
<use href="#k6" class="b" transform="translate(59 140) scale(38 38)"/>
<use href="#k6" class="b" transform="translate(153 140) scale(38 38)"/>
<use href="#k3" class="o" transform="translate(59 54) scale(25 25)"/>
<use href="#k6" class="o" transform="translate(153 54) scale(40 35)"/>
<use href="#k3" class="o" transform="translate(59 140) scale(30 30)"/>
<use href="#k3" class="o" transform="translate(153 140) scale(30 28)"/>
<path class="sp" d="M0 0V209H211.5"/>
</g>
<g id="p76" transform="translate(1275.7 1452.8)">
<use href="#k7" class="b" transform="translate(130 70) rotate(-40) scale(70 35)"/>
<use href="#k4" class="b" transform="translate(60 140) scale(35 30)"/>
<use href="#k8" class="o" transform="translate(130 70) rotate(-40) scale(65 28)"/>
<use href="#k4" class="o" transform="translate(70 140) rotate(-40) scale(30 22)"/>
<path class="sp" d="M0 0V209H211.5"/>
</g>
<g id="p77" transform="translate(1516.1 1452.8)">
<use href="#pw" class="b" transform="translate(115 97) scale(90 88)"/>
<use href="#k7" class="b" transform="translate(115 54) scale(85 30)"/>
<use href="#k6" class="b" transform="translate(110 140) scale(80 30)"/>
<use href="#k7" class="o" transform="translate(105 54) scale(30 35)"/>
<use href="#k4" class="o" transform="translate(105 140) scale(15 30)"/>
<path class="sp" d="M0 0V209H211.5"/>
</g>
<g id="p78" transform="translate(1756.5 1452.8)">
<use href="#pw" class="b" transform="translate(105 97) scale(97 90)"/>
<use href="#k7" class="b" transform="translate(105 54) scale(95 35)"/>
<use href="#k6" class="b" transform="translate(90 140) scale(70 30)"/>
<use href="#k6" class="o" transform="translate(105 54) scale(85 32)"/>
<use href="#k3" class="o" transform="translate(130 140) scale(50 25)"/>
<path class="sp" d="M0 0V209H211.5"/>
</g>

<!-- Row 8: RM_better_sleep -->
<g id="p81" transform="translate(73.7 1683.5)">
<use href="#k7" class="b" transform="translate(59 62) rotate(-40) scale(30 45)"/>
<use href="#k6" class="b" transform="translate(153 62) rotate(-30) scale(22 40)"/>
<use href="#k8" class="b" transform="translate(153 150) rotate(-30) scale(35 55)"/>
<use href="#k5" class="o" transform="translate(59 62) rotate(-40) scale(45 55)"/>
<use href="#k3" class="o" transform="translate(59 150) rotate(-30) scale(30 42)"/>
<use href="#k2" class="o" transform="translate(153 62) scale(6 6)"/>
<use href="#k3" class="o" transform="translate(153 150) rotate(-30) scale(30 45)"/>
<path class="sp" d="M0 0V209H211.5"/>
</g>
<g id="p82" transform="translate(314.1 1683.5)">
<use href="#pw" class="b" transform="translate(105 105) scale(97 88)"/>
<use href="#k8" class="b" transform="translate(105 150) scale(90 35)"/>
<use href="#k6" class="b" transform="translate(120 62) scale(55 35)"/>
<use href="#k7" class="o" transform="translate(105 62) scale(80 40)"/>
<use href="#k2" class="o" transform="translate(45 62) scale(18 25)"/>
<use href="#k4" class="o" transform="translate(105 150) scale(60 40)"/>
<path class="sp" d="M0 0V209H211.5"/>
</g>
<g id="p83" transform="translate(554.5 1683.5)">
<use href="#k5" class="b" transform="translate(110 62) scale(60 30)"/>
<use href="#k8" class="b" transform="translate(105 150) scale(90 35)"/>
<use href="#k7" class="o" transform="translate(105 62) scale(85 35)"/>
<use href="#k5" class="o" transform="translate(110 150) scale(80 35)"/>
<path class="sp" d="M0 0V209H211.5"/>
</g>
<g id="p84" transform="translate(794.9 1683.5)">
<use href="#k4" class="b" transform="translate(120 65) scale(65 35)"/>
<use href="#k7" class="b" transform="translate(105 150) scale(85 32)"/>
<use href="#k8" class="o" transform="translate(135 60) rotate(-30) scale(45 30)"/>
<use href="#k4" class="o" transform="translate(105 150) scale(70 28)"/>
<path class="sp" d="M0 0V209H211.5"/>
</g>
<g id="p85" transform="translate(1035.3 1683.5)">
<use href="#p4" class="b" transform="translate(106 105) scale(98 90)"/>
<use href="#k6" class="b" transform="translate(59 62) scale(38 38)"/>
<use href="#k6" class="b" transform="translate(153 62) scale(38 38)"/>
<use href="#k6" class="b" transform="translate(59 150) scale(38 38)"/>
<use href="#k6" class="b" transform="translate(153 150) scale(38 38)"/>
<use href="#k3" class="o" transform="translate(59 62) scale(30 30)"/>
<use href="#k5" class="o" transform="translate(153 62) scale(35 35)"/>
<use href="#k3" class="o" transform="translate(59 150) scale(30 28)"/>
<use href="#k3" class="o" transform="translate(153 150) scale(30 28)"/>
<path class="sp" d="M0 0V209H211.5"/>
</g>
<g id="p86" transform="translate(1275.7 1683.5)">
<use href="#k5" class="b" transform="translate(100 62) scale(60 30)"/>
<use href="#k8" class="b" transform="translate(100 150) scale(85 32)"/>
<use href="#k8" class="o" transform="translate(135 60) rotate(-30) scale(60 30)"/>
<use href="#k4" class="o" transform="translate(110 150) scale(60 28)"/>
<path class="sp" d="M0 0V209H211.5"/>
</g>
<g id="p87" transform="translate(1516.1 1683.5)">
<use href="#k6" class="b" transform="translate(105 62) scale(80 35)"/>
<use href="#k8" class="b" transform="translate(110 150) scale(90 35)"/>
<use href="#k6" class="o" transform="translate(100 62) scale(25 40)"/>
<use href="#k5" class="o" transform="translate(110 150) scale(55 35)"/>
<path class="sp" d="M0 0V209H211.5"/>
</g>
<g id="p88" transform="translate(1756.5 1683.5)">
<use href="#k6" class="b" transform="translate(90 62) scale(70 35)"/>
<use href="#k8" class="b" transform="translate(115 150) scale(90 35)"/>
<use href="#k6" class="o" transform="translate(105 62) scale(85 40)"/>
<use href="#k4" class="o" transform="translate(130 150) scale(55 30)"/>
<path class="sp" d="M0 0V209H211.5"/>
</g>

<!-- Y tick labels -->
<g id="yticks">
<text class="yt" x="60" y="114.4">60</text><text class="yt" x="60" y="177.4">40</text><text class="yt" x="60" y="240.4">20</text>
<text class="yt" x="60" y="320.5">8</text><text class="yt" x="60" y="357.3">6</text><text class="yt" x="60" y="394">4</text><text class="yt" x="60" y="430.7">2</text><text class="yt" x="60" y="467.4">0</text><text class="yt" x="60" y="504.1">−2</text>
<text class="yt" x="60" y="545.5">1.5</text><text class="yt" x="60" y="588.8">1.0</text><text class="yt" x="60" y="632.2">0.5</text><text class="yt" x="60" y="675.5">0.0</text><text class="yt" x="60" y="718.8">−0.5</text>
<text class="yt" x="60" y="810.5">2</text><text class="yt" x="60" y="882.2">1</text><text class="yt" x="60" y="953.9">0</text>
<text class="yt" x="60" y="1007.2">1.5</text><text class="yt" x="60" y="1050.5">1.0</text><text class="yt" x="60" y="1093.8">0.5</text><text class="yt" x="60" y="1137.2">0.0</text><text class="yt" x="60" y="1180.5">−0.5</text>
<text class="yt" x="60" y="1240.5">1.5</text><text class="yt" x="60" y="1282.8">1.0</text><text class="yt" x="60" y="1326.5">0.5</text><text class="yt" x="60" y="1369.8">0.0</text><text class="yt" x="60" y="1413.2">−0.5</text>
<text class="yt" x="60" y="1468.8">1.5</text><text class="yt" x="60" y="1512.2">1.0</text><text class="yt" x="60" y="1555.5">0.5</text><text class="yt" x="60" y="1598.8">0.0</text><text class="yt" x="60" y="1642.2">−0.5</text>
<text class="yt" x="60" y="1705.5">1.5</text><text class="yt" x="60" y="1750.5">1.0</text><text class="yt" x="60" y="1794.7">0.5</text><text class="yt" x="60" y="1839">0.0</text><text class="yt" x="60" y="1883.5">−0.5</text>
</g>
<!-- Y axis labels -->
<g id="ylabels">
<text class="lb" transform="translate(34 173.1) rotate(-90)">Age</text>
<text class="lb" transform="translate(34 403.8) rotate(-90)">Occupation</text>
<text class="lb" transform="translate(34 634.5) rotate(-90)">Gender</text>
<text class="lb" transform="translate(34 865.2) rotate(-90)">Same_office_home_location</text>
<text class="lb" transform="translate(34 1095.9) rotate(-90)">kids</text>
<text class="lb" transform="translate(34 1326.6) rotate(-90)">RM_save_money</text>
<text class="lb" transform="translate(34 1557.3) rotate(-90)">RM_quality_time</text>
<text class="lb" transform="translate(34 1788) rotate(-90)">RM_better_sleep</text>
</g>
<!-- X tick labels -->
<g id="xticks">
<text class="xt" x="132.4" y="1918.5">0</text><text class="xt" x="226.7" y="1918.5">1</text>
<text class="xt" x="329.4" y="1918.5">0</text><text class="xt" x="389.2" y="1918.5">2</text><text class="xt" x="449" y="1918.5">4</text><text class="xt" x="508.8" y="1918.5">6</text>
<text class="xt" x="569.8" y="1918.5">0</text><text class="xt" x="629.6" y="1918.5">2</text><text class="xt" x="689.4" y="1918.5">4</text><text class="xt" x="749.2" y="1918.5">6</text>
<text class="xt" x="810.2" y="1918.5">0</text><text class="xt" x="870" y="1918.5">2</text><text class="xt" x="929.8" y="1918.5">4</text><text class="xt" x="989.6" y="1918.5">6</text>
<text class="xt" x="1094" y="1918.5">0</text><text class="xt" x="1188.3" y="1918.5">1</text>
<text class="xt" x="1291" y="1918.5">0</text><text class="xt" x="1350.8" y="1918.5">2</text><text class="xt" x="1410.6" y="1918.5">4</text><text class="xt" x="1470.4" y="1918.5">6</text>
<text class="xt" x="1531.4" y="1918.5">0</text><text class="xt" x="1591.2" y="1918.5">2</text><text class="xt" x="1651" y="1918.5">4</text><text class="xt" x="1710.8" y="1918.5">6</text>
<text class="xt" x="1812.5" y="1918.5">0</text><text class="xt" x="1910.9" y="1918.5">2</text>
</g>
<!-- X axis labels -->
<g id="xlabels">
<text class="lb" x="179.5" y="1939">calmer_stressed</text>
<text class="lb" x="419.9" y="1939">RM_professional_growth</text>
<text class="lb" x="660.3" y="1939">RM_lazy</text>
<text class="lb" x="900.6" y="1939">RM_productive</text>
<text class="lb" x="1141" y="1939">digital_connect_sufficient</text>
<text class="lb" x="1381.5" y="1939">RM_better_work_life_balance</text>
<text class="lb" x="1621.9" y="1939">RM_improved_skillset</text>
<text class="lb" x="1862.3" y="1939">RM_job_opportunities</text>
</g>
<!-- Legend -->
<g id="legend">
<text x="2014" y="959" style="font-size:15.3px" text-anchor="middle">Target</text>
<line x1="1988" y1="974" x2="2019" y2="974" stroke="#1f77b4" stroke-width="2"/>
<line x1="1988" y1="995.7" x2="2019" y2="995.7" stroke="#ff7f0e" stroke-width="2"/>
<text x="2031" y="979.5" style="font-size:15.3px">0</text>
<text x="2031" y="1001.2" style="font-size:15.3px">1</text>
</g>
</svg>
